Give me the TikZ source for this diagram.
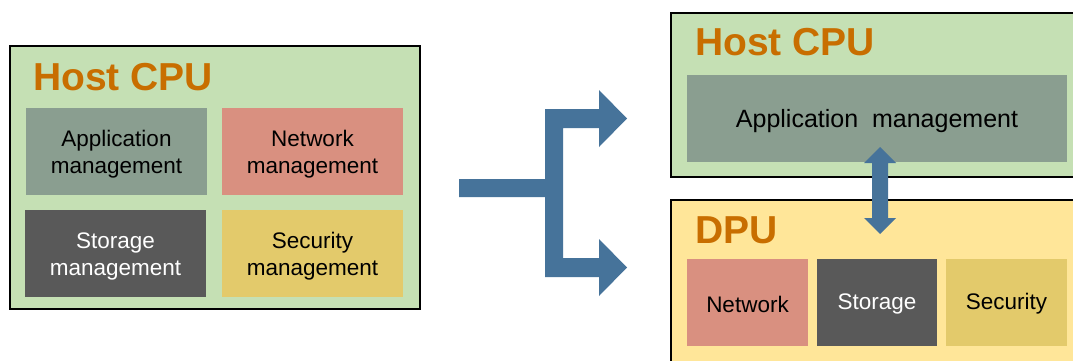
\documentclass[tikz,border=0pt]{standalone}
\usepackage{fontspec}
\setmainfont{Liberation Sans}
\definecolor{hostgreen}{HTML}{C5E0B4}
\definecolor{dpuyellow}{HTML}{FFE699}
\definecolor{appgray}{HTML}{8A9E90}
\definecolor{netred}{HTML}{D99080}
\definecolor{stordark}{HTML}{595959}
\definecolor{secyellow}{HTML}{E3CA6B}
\definecolor{titleorange}{HTML}{C86E00}
\definecolor{arrowblue}{HTML}{46739A}
\tikzset{
  outerbox/.style={draw=black, line width=2pt},
  title/.style={anchor=base west, inner sep=0pt, text=titleorange, font=\fontsize{39}{39}\selectfont\bfseries},
  modbox/.style={draw=none, align=center, font=\fontsize{22.5}{27}\selectfont, inner sep=0pt},
  bigarrow/.style={fill=arrowblue, draw=none},
}
\begin{document}
\begin{tikzpicture}[x=1pt,y=-1pt]
\useasboundingbox (0,0) rectangle (1073,361);
\fill[white] (0,0) rectangle (1073,361);
% left Host CPU
\draw[outerbox, fill=hostgreen] (10,46) rectangle (420,309);
\node[title] (lhost) at (33,90) {Host CPU};
\path[fill=appgray] (26,108) rectangle (207,195);
\node[modbox] (lapp) at (116.5,154) {Application\\management};
\path[fill=netred] (222,108) rectangle (403,195);
\node[modbox] (lnet) at (312.5,154) {Network\\management};
\path[fill=stordark] (25,210) rectangle (206,297);
\node[modbox, text=white] (lsto) at (115.5,256) {Storage\\management};
\path[fill=secyellow] (222,210) rectangle (403,297);
\node[modbox] (lsec) at (312.5,256) {Security\\management};
% branch arrow
\fill[bigarrow] (459,179) -- (545,179) -- (545,109) -- (599,109) -- (599,90) -- (627,118.5)
  -- (599,147) -- (599,128) -- (563,128) -- (563,258) -- (599,258) -- (599,239)
  -- (627,267.5) -- (599,296) -- (599,277) -- (545,277) -- (545,197) -- (459,197) -- cycle;
% right side
\begin{scope}
\clip (0,0) rectangle (1073,361);
\draw[outerbox, fill=hostgreen] (671,13) rectangle (1090,177);
\draw[outerbox, fill=dpuyellow] (671,200) rectangle (1090,380);
\end{scope}
\node[title] (rhost) at (695,56) {Host CPU};
\path[fill=appgray] (687,75) rectangle (1067,162);
\node[modbox, font=\fontsize{25}{28}\selectfont] (rapp) at (877,121) {Application\ \ management};
\node[title] (dpu) at (695,243) {DPU};
\path[fill=netred] (687,259) rectangle (808,346);
\node[modbox] (rnet) at (747.5,304) {Network};
\path[fill=stordark] (817,259) rectangle (937,346);
\node[modbox, text=white] (rsto) at (877,304) {Storage};
\path[fill=secyellow] (946,259) rectangle (1067,346);
\node[modbox] (rsec) at (1006.5,304) {Security};
% double arrow
\fill[bigarrow] (880,147) -- (896,163) -- (888,163) -- (888,218) -- (896,218) -- (880,234)
  -- (864,218) -- (872,218) -- (872,163) -- (864,163) -- cycle;
\end{tikzpicture}
\end{document}
